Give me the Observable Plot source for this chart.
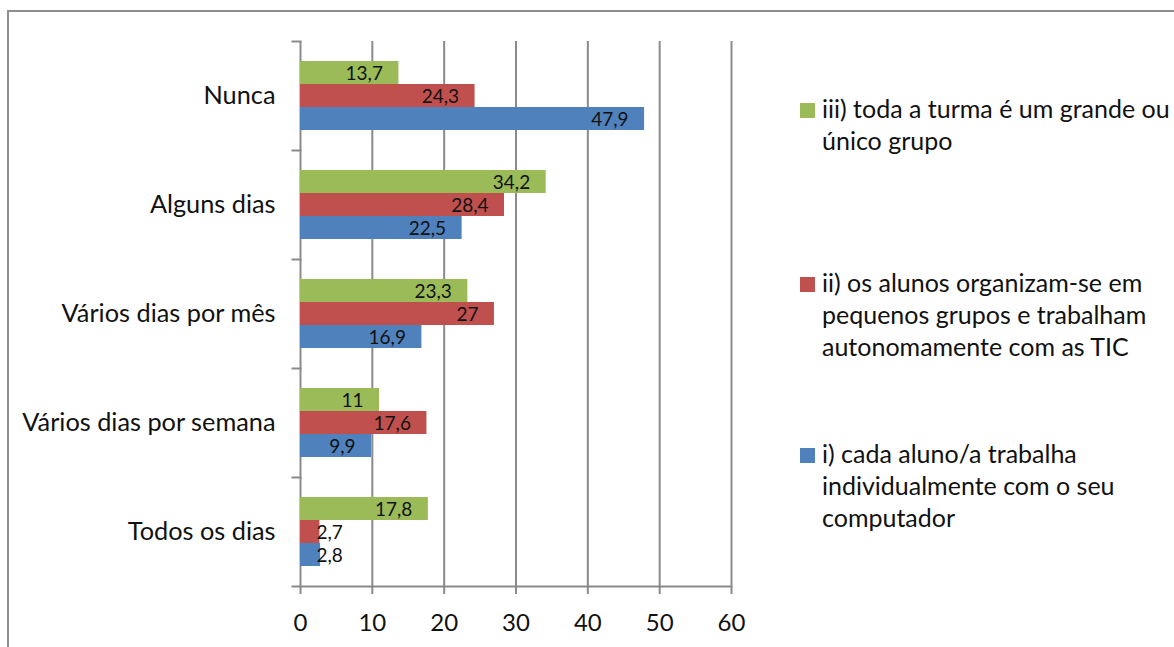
<!DOCTYPE html>
<html>
<head>
<meta charset="utf-8">
<script src="https://cdn.jsdelivr.net/npm/d3@7"></script>
<script src="https://cdn.jsdelivr.net/npm/@observablehq/plot@0.6"></script>
<style>
  html, body { margin: 0; padding: 0; background: #fff; }
  #wrap { position: relative; width: 1174px; height: 647px; overflow: hidden; font-family: Lato, "Open Sans", sans-serif; }
  #border { position: absolute; left: 7px; top: 10px; width: 1200px; height: 700px;
            border-left: 2px solid #8e8e8e; border-top: 2px solid #8e8e8e; box-sizing: border-box; }
  #chart { position: absolute; left: 0; top: 0; }
  .item { position: absolute; left: 800px; font-size: 25px; line-height: 32px; color: #111; }
  .item .sw { position: absolute; left: 0; top: 11px; width: 15px; height: 15px; }
  .item .tx { margin-left: 22px; white-space: nowrap; }
</style>
</head>
<body>
<div id="wrap">
  <div id="border"></div>
  <div id="chart"></div>
  <div id="legend"></div>
</div>
<script>
// Frequency categories, top to bottom
const categories = ["Nunca", "Alguns dias", "Vários dias por mês", "Vários dias por semana", "Todos os dias"];

// Series keys, in the order the bars sit within each group (top to bottom)
const seriesKeys = ["iii", "ii", "i"];
const seriesNames = [
  "iii) toda a turma é um grande ou<br>único grupo",
  "ii) os alunos organizam-se em<br>pequenos grupos e trabalham<br>autonomamente com as TIC",
  "i) cada aluno/a trabalha<br>individualmente com o seu<br>computador"
];
const seriesColors = ["#9BBB59", "#C0504D", "#4F81BD"];

// Percentages per category
const valuesIII = [13.7, 34.2, 23.3, 11, 17.8];
const valuesII  = [24.3, 28.4, 27, 17.6, 2.7];
const valuesI   = [47.9, 22.5, 16.9, 9.9, 2.8];

// X axis ticks
const xTicks = [0, 10, 20, 30, 40, 50, 60];

const seriesValues = [valuesIII, valuesII, valuesI];
const rows = categories.flatMap((cat, ci) =>
  seriesKeys.map((s, si) => ({cat, series: s, value: seriesValues[si][ci]}))
);

const fmt = v => String(v).replace(".", ",");
const gray = "#8a8a8a";

const chart = Plot.plot({
  width: 1174,
  height: 647,
  marginLeft: 300,
  marginRight: 443,
  marginTop: 40,
  marginBottom: 60,
  style: {fontFamily: "Lato, 'Open Sans', sans-serif", fontSize: "24px", background: "transparent", color: "#111"},
  facet: {data: rows, y: "cat"},
  fy: {domain: categories, padding: 0, label: null, axis: null},
  y: {domain: seriesKeys, paddingInner: 0, paddingOuter: 0.777, axis: null},
  x: {domain: [0, 60], axis: null},
  color: {domain: seriesKeys, range: seriesColors},
  marks: [
    // vertical gridlines and value axis line
    Plot.ruleX(xTicks, {stroke: gray, strokeWidth: 2}),
    // category boundary ticks on the left of the axis
    Plot.frame({anchor: "top", insetLeft: -8, insetRight: 431, stroke: gray, strokeWidth: 2}),
    // bottom axis line
    Plot.frame({anchor: "bottom", facetAnchor: "bottom", insetLeft: -8, stroke: gray, strokeWidth: 2}),
    Plot.barX(rows, {x: "value", y: "series", fill: "series"}),
    Plot.text(rows, {
      filter: d => d.value >= 5,
      x: "value", y: "series", text: d => fmt(d.value),
      textAnchor: "end", dx: -16, dy: 1, fontSize: 19, fill: "#111"
    }),
    Plot.text(rows, {
      filter: d => d.value < 5,
      frameAnchor: "left", y: "series", text: d => fmt(d.value),
      textAnchor: "start", dx: 16, dy: 1, fontSize: 19, fill: "#111"
    }),
    Plot.axisX(xTicks, {tickSize: 8, tickPadding: 19, stroke: gray, strokeWidth: 2, fill: "#111", fontSize: 24, label: null}),
    Plot.axisFy({anchor: "left", tickSize: 0, tickPadding: 25, fontSize: 25.3, fill: "#111", label: null})
  ]
});
document.getElementById("chart").appendChild(chart);

// Legend, to the right of the plot
const legendTops = [92, 266, 437];
const legend = document.getElementById("legend");
seriesNames.forEach((name, i) => {
  const item = document.createElement("div");
  item.className = "item";
  item.style.top = legendTops[i] + "px";
  item.innerHTML = `<span class="sw" style="background:${seriesColors[i]}"></span><div class="tx">${name}</div>`;
  legend.appendChild(item);
});
</script>
</body>
</html>
